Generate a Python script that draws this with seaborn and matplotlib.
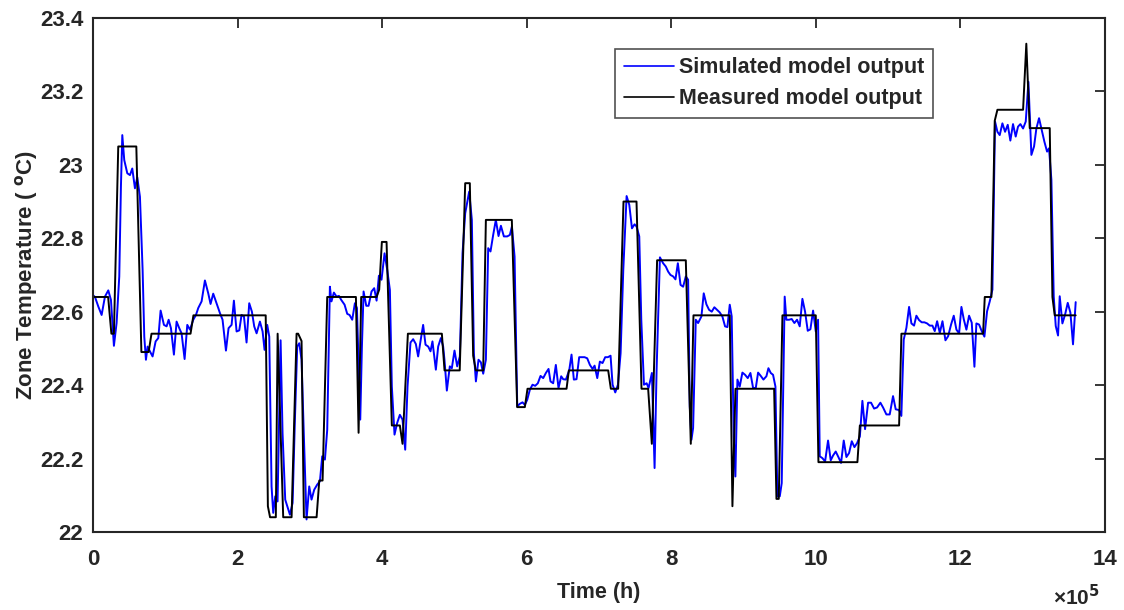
import numpy as np
import pandas as pd
import matplotlib
matplotlib.use('Agg')
import matplotlib.pyplot as plt
import seaborn as sns
from matplotlib.ticker import FuncFormatter, MultipleLocator

# time in units of 1e5 h, temperature in degC
sim_time = [0.0, 0.028, 0.074, 0.120, 0.166, 0.212, 0.249, 0.290, 0.327, 0.364, 0.387, 0.406, 0.433,
            0.475, 0.512, 0.544, 0.581, 0.613, 0.650, 0.687, 0.710, 0.733, 0.756, 0.788, 0.825,
            0.867, 0.904, 0.936, 0.982, 1.019, 1.047, 1.079, 1.120, 1.157, 1.194, 1.226, 1.268,
            1.305, 1.342, 1.388, 1.425, 1.457, 1.503, 1.549, 1.595, 1.627, 1.664, 1.710, 1.757,
            1.793, 1.840, 1.876, 1.918, 1.950, 1.987, 2.024, 2.056, 2.089, 2.125, 2.162, 2.199,
            2.231, 2.264, 2.310, 2.347, 2.374, 2.411, 2.439, 2.471, 2.494, 2.522, 2.554, 2.596,
            2.623, 2.660, 2.725, 2.762, 2.794, 2.826, 2.854, 2.886, 2.918, 2.955, 2.992, 3.024,
            3.061, 3.103, 3.140, 3.172, 3.209, 3.241, 3.278, 3.300, 3.333, 3.370, 3.403, 3.435,
            3.481, 3.518, 3.550, 3.587, 3.624, 3.652, 3.670, 3.698, 3.721, 3.744, 3.781, 3.813,
            3.854, 3.891, 3.924, 3.956, 3.992, 4.034, 4.071, 4.108, 4.135, 4.172, 4.209, 4.246,
            4.283, 4.320, 4.352, 4.393, 4.430, 4.467, 4.499, 4.531, 4.568, 4.601, 4.638, 4.670,
            4.697, 4.744, 4.776, 4.813, 4.845, 4.863, 4.896, 4.937, 4.965, 5.002, 5.039, 5.076,
            5.113, 5.150, 5.205, 5.242, 5.270, 5.298, 5.334, 5.367, 5.399, 5.436, 5.468, 5.500,
            5.537, 5.574, 5.611, 5.644, 5.685, 5.731, 5.768, 5.796, 5.833, 5.870, 5.906, 5.943,
            5.975, 6.008, 6.044, 6.081, 6.118, 6.155, 6.192, 6.229, 6.266, 6.303, 6.330, 6.367,
            6.404, 6.441, 6.478, 6.506, 6.543, 6.589, 6.621, 6.653, 6.690, 6.727, 6.764, 6.801,
            6.838, 6.875, 6.912, 6.940, 6.977, 7.013, 7.050, 7.087, 7.124, 7.161, 7.189, 7.226,
            7.263, 7.300, 7.337, 7.383, 7.420, 7.457, 7.493, 7.521, 7.558, 7.586, 7.623, 7.660,
            7.687, 7.733, 7.770, 7.798, 7.844, 7.888, 7.925, 7.958, 7.990, 8.027, 8.059, 8.092,
            8.129, 8.165, 8.202, 8.234, 8.257, 8.280, 8.303, 8.340, 8.372, 8.418, 8.450, 8.487,
            8.524, 8.561, 8.597, 8.634, 8.671, 8.708, 8.745, 8.777, 8.810, 8.837, 8.865, 8.888,
            8.916, 8.948, 8.985, 9.022, 9.059, 9.096, 9.133, 9.170, 9.202, 9.239, 9.276, 9.317,
            9.345, 9.377, 9.409, 9.442, 9.469, 9.502, 9.529, 9.547, 9.570, 9.593, 9.630, 9.667,
            9.704, 9.741, 9.778, 9.815, 9.852, 9.889, 9.926, 9.963, 10.000, 10.032, 10.055,
            10.092, 10.129, 10.170, 10.207, 10.239, 10.276, 10.313, 10.350, 10.387, 10.424,
            10.461, 10.498, 10.535, 10.572, 10.610, 10.645, 10.682, 10.724, 10.765, 10.807,
            10.848, 10.894, 10.931, 10.977, 11.023, 11.069, 11.106, 11.152, 11.184, 11.217,
            11.254, 11.291, 11.323, 11.360, 11.392, 11.429, 11.466, 11.503, 11.540, 11.577,
            11.614, 11.646, 11.679, 11.716, 11.753, 11.794, 11.831, 11.872, 11.909, 11.946,
            11.983, 12.015, 12.048, 12.084, 12.121, 12.158, 12.195, 12.222, 12.259, 12.296,
            12.333, 12.370, 12.407, 12.444, 12.480, 12.513, 12.545, 12.582, 12.619, 12.656,
            12.692, 12.729, 12.766, 12.798, 12.831, 12.868, 12.905, 12.942, 12.983, 13.020,
            13.052, 13.089, 13.126, 13.163, 13.200, 13.227, 13.260, 13.292, 13.320, 13.352,
            13.375, 13.412, 13.449, 13.486, 13.523, 13.559, 13.596]
sim_temp = [22.645, 22.640, 22.614, 22.591, 22.641, 22.658, 22.632, 22.507, 22.569, 22.696, 22.941,
            23.081, 23.013, 22.977, 22.972, 22.990, 22.936, 22.966, 22.913, 22.714, 22.532,
            22.469, 22.505, 22.492, 22.478, 22.519, 22.528, 22.603, 22.564, 22.560, 22.578,
            22.555, 22.483, 22.573, 22.555, 22.541, 22.471, 22.564, 22.551, 22.578, 22.591,
            22.610, 22.628, 22.685, 22.650, 22.621, 22.649, 22.623, 22.596, 22.578, 22.494,
            22.555, 22.564, 22.630, 22.546, 22.549, 22.591, 22.587, 22.516, 22.623, 22.600,
            22.560, 22.541, 22.573, 22.546, 22.496, 22.564, 22.532, 22.124, 22.052, 22.097,
            22.083, 22.522, 22.269, 22.088, 22.047, 22.079, 22.306, 22.505, 22.514, 22.469,
            22.260, 22.034, 22.124, 22.088, 22.115, 22.129, 22.138, 22.206, 22.197, 22.278,
            22.668, 22.628, 22.652, 22.641, 22.643, 22.632, 22.619, 22.594, 22.591, 22.578,
            22.623, 22.610, 22.487, 22.306, 22.505, 22.655, 22.616, 22.616, 22.655, 22.664,
            22.630, 22.698, 22.687, 22.759, 22.714, 22.659, 22.396, 22.265, 22.297, 22.319,
            22.306, 22.224, 22.396, 22.516, 22.525, 22.512, 22.478, 22.519, 22.564, 22.510,
            22.505, 22.492, 22.519, 22.442, 22.505, 22.528, 22.505, 22.469, 22.385, 22.451,
            22.446, 22.494, 22.451, 22.478, 22.759, 22.868, 22.927, 22.850, 22.487, 22.410,
            22.469, 22.462, 22.431, 22.469, 22.773, 22.764, 22.809, 22.850, 22.806, 22.834,
            22.805, 22.805, 22.809, 22.832, 22.750, 22.342, 22.349, 22.353, 22.346, 22.360,
            22.387, 22.401, 22.398, 22.405, 22.425, 22.419, 22.433, 22.444, 22.410, 22.405,
            22.455, 22.392, 22.424, 22.416, 22.415, 22.440, 22.483, 22.415, 22.416, 22.476,
            22.476, 22.476, 22.473, 22.455, 22.444, 22.453, 22.419, 22.464, 22.460, 22.476,
            22.476, 22.480, 22.401, 22.380, 22.401, 22.487, 22.714, 22.915, 22.891, 22.827,
            22.838, 22.832, 22.805, 22.578, 22.401, 22.405, 22.392, 22.433, 22.174, 22.442,
            22.748, 22.732, 22.723, 22.709, 22.700, 22.696, 22.688, 22.732, 22.673, 22.668,
            22.696, 22.687, 22.342, 22.251, 22.283, 22.578, 22.569, 22.587, 22.650, 22.620,
            22.605, 22.600, 22.612, 22.605, 22.598, 22.587, 22.560, 22.558, 22.619, 22.587,
            22.260, 22.151, 22.415, 22.396, 22.434, 22.428, 22.419, 22.433, 22.392, 22.392,
            22.434, 22.425, 22.415, 22.424, 22.446, 22.433, 22.428, 22.396, 22.097, 22.097,
            22.133, 22.351, 22.641, 22.578, 22.578, 22.580, 22.569, 22.578, 22.560, 22.635,
            22.600, 22.548, 22.552, 22.603, 22.546, 22.578, 22.206, 22.201, 22.192, 22.249,
            22.195, 22.208, 22.219, 22.204, 22.188, 22.249, 22.204, 22.215, 22.247, 22.231,
            22.242, 22.260, 22.357, 22.280, 22.352, 22.352, 22.336, 22.339, 22.352, 22.339,
            22.320, 22.320, 22.370, 22.334, 22.332, 22.316, 22.524, 22.556, 22.613, 22.568,
            22.562, 22.589, 22.577, 22.571, 22.571, 22.568, 22.562, 22.562, 22.547, 22.574,
            22.542, 22.574, 22.522, 22.533, 22.565, 22.589, 22.551, 22.541, 22.613, 22.579,
            22.551, 22.589, 22.570, 22.450, 22.568, 22.565, 22.547, 22.532, 22.601, 22.628,
            22.660, 23.118, 23.090, 23.081, 23.113, 23.090, 23.109, 23.066, 23.111, 23.077,
            23.104, 23.111, 23.099, 23.118, 23.226, 23.027, 23.050, 23.099, 23.127, 23.095,
            23.063, 23.036, 23.045, 22.959, 22.642, 22.561, 22.535, 22.642, 22.568, 22.592,
            22.624, 22.597, 22.511, 22.626]

meas_time = [0.0, 0.21, 0.255, 0.29, 0.35, 0.60, 0.67, 0.77, 0.81, 1.35, 1.39, 2.39, 2.42, 2.45,
             2.53, 2.555, 2.632, 2.748, 2.817, 2.839, 2.886, 2.918, 3.094, 3.131, 3.177, 3.241,
             3.638, 3.675, 3.711, 3.924, 3.960, 3.997, 4.062, 4.135, 4.246, 4.283, 4.357, 4.827,
             4.864, 5.074, 5.150, 5.214, 5.260, 5.297, 5.399, 5.436, 5.795, 5.869, 5.975, 6.012,
             6.552, 6.584, 7.128, 7.165, 7.266, 7.340, 7.520, 7.589, 7.681, 7.732, 7.805, 8.202,
             8.271, 8.308, 8.810, 8.847, 8.889, 9.424, 9.456, 9.488, 9.539, 10.000, 10.037,
             10.576, 10.610, 11.153, 11.185, 12.315, 12.338, 12.430, 12.476, 12.513, 12.868,
             12.913, 12.960, 13.237, 13.274, 13.306, 13.596]
meas_temp = [22.64, 22.64, 22.54, 22.54, 23.05, 23.05, 22.49, 22.49, 22.54, 22.54, 22.59, 22.59,
             22.07, 22.04, 22.04, 22.54, 22.04, 22.04, 22.54, 22.54, 22.52, 22.04, 22.04, 22.14,
             22.14, 22.64, 22.64, 22.27, 22.64, 22.64, 22.66, 22.79, 22.79, 22.29, 22.29, 22.24,
             22.54, 22.54, 22.44, 22.44, 22.95, 22.95, 22.48, 22.44, 22.44, 22.85, 22.85, 22.34,
             22.34, 22.39, 22.39, 22.44, 22.44, 22.39, 22.39, 22.90, 22.90, 22.39, 22.39, 22.24,
             22.74, 22.74, 22.24, 22.59, 22.59, 22.07, 22.39, 22.39, 22.09, 22.09, 22.59, 22.59,
             22.19, 22.19, 22.29, 22.29, 22.54, 22.54, 22.64, 22.64, 23.12, 23.15, 23.15, 23.33,
             23.10, 23.10, 22.64, 22.59, 22.59]

sim = pd.DataFrame({'time': np.array(sim_time) * 1e5, 'temp': sim_temp})
meas = pd.DataFrame({'time': np.array(meas_time) * 1e5, 'temp': meas_temp})

sns.set_style('white')
plt.rcParams['font.family'] = ['Liberation Sans', 'DejaVu Sans']
plt.rcParams['font.weight'] = 'bold'
plt.rcParams['axes.labelweight'] = 'bold'
plt.rcParams['mathtext.default'] = 'bf'

dark = '#262626'
fig, ax = plt.subplots(figsize=(11.24, 6.10), dpi=100)
fig.subplots_adjust(left=0.0827, right=0.983, top=0.9705, bottom=0.128)

sns.lineplot(data=sim, x='time', y='temp', color='#0000ff', lw=1.4, sort=False,
             estimator=None, label='Simulated model output', ax=ax)
sns.lineplot(data=meas, x='time', y='temp', color='black', lw=1.4, sort=False,
             estimator=None, label='Measured model output', ax=ax)

ax.set_xlim(0, 14e5)
ax.set_ylim(22, 23.4)
ax.xaxis.set_major_locator(MultipleLocator(2e5))
ax.yaxis.set_major_locator(MultipleLocator(0.2))
ax.xaxis.set_major_formatter(FuncFormatter(lambda v, p: f'{v / 1e5:g}'))
ax.yaxis.set_major_formatter(FuncFormatter(lambda v, p: f'{v:g}'))

ax.tick_params(direction='in', length=7, width=1.3, colors=dark, labelsize=16,
               top=True, right=True)
ax.tick_params(axis='x', pad=12)
ax.tick_params(axis='y', pad=7)
for s in ax.spines.values():
    s.set_linewidth(1.5)
    s.set_color(dark)

ax.set_xlabel('Time (h)', fontsize=15.5, labelpad=9, color=dark)
ax.set_ylabel('Zone Temperature ( $^{\\mathrm{o}}$C)', fontsize=16, labelpad=0, color=dark)
fig.text(1100 / 1124, 1 - 597 / 610, r'$\mathregular{\times}$10$^{5}$', ha='right', va='center',
         fontsize=15, color=dark)

leg = ax.legend(loc='upper right', bbox_to_anchor=(0.83, 0.94), borderaxespad=0,
                fontsize=15.5, frameon=True, fancybox=False, handlelength=2.3,
                handletextpad=0.25, borderpad=0.4, labelspacing=0.45)
leg.get_frame().set_edgecolor(dark)
leg.get_frame().set_linewidth(1.2)
for line in leg.get_lines():
    line.set_linewidth(1.2)

plt.savefig('out.png', dpi=100)
